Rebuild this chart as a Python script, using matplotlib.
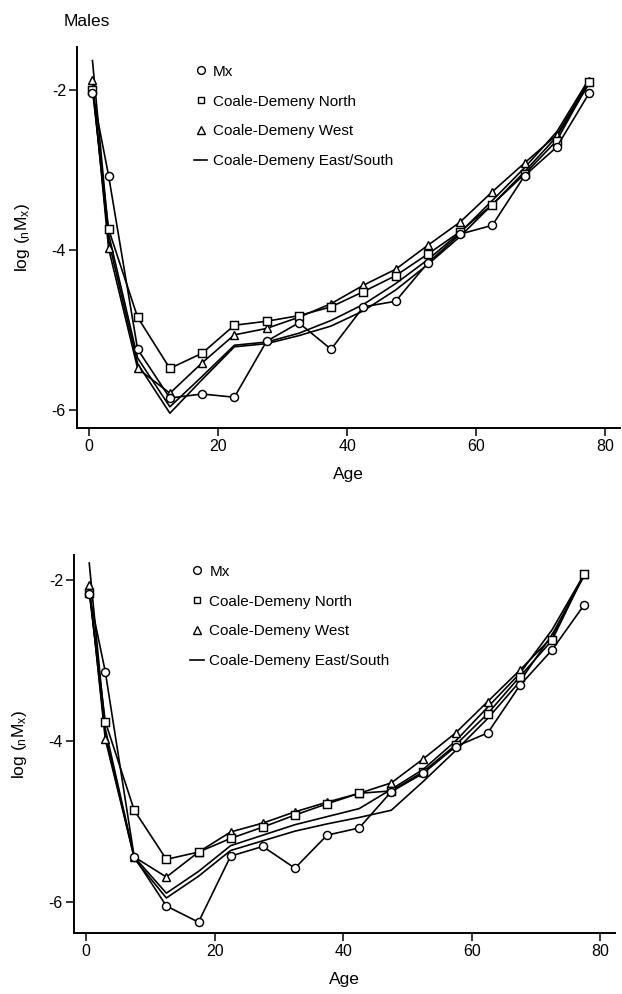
import matplotlib
matplotlib.use("Agg")
import matplotlib.pyplot as plt
from matplotlib.lines import Line2D

plt.rcParams["font.family"] = ["Liberation Sans", "DejaVu Sans"]
plt.rcParams["mathtext.fontset"] = "custom"
plt.rcParams["mathtext.rm"] = "Liberation Sans"
plt.rcParams["mathtext.it"] = "Liberation Sans:italic"
plt.rcParams["mathtext.default"] = "regular"
plt.rcParams["axes.unicode_minus"] = False

# Age-group midpoints
ages = [0.5, 3, 7.5, 12.5, 17.5, 22.5, 27.5, 32.5, 37.5, 42.5, 47.5, 52.5,
        57.5, 62.5, 67.5, 72.5, 77.5]

# Males: log(nMx) observed and model life tables
mx_m = [-2.03, -3.07, -5.24, -5.85, -5.80, -5.84, -5.14, -4.91, -5.24, -4.71,
        -4.64, -4.16, -3.80, -3.69, -3.07, -2.71, -2.04]
north_m = [-2.00, -3.74, -4.84, -5.48, -5.29, -4.94, -4.89, -4.82, -4.71, -4.52,
           -4.32, -4.05, -3.77, -3.43, -3.05, -2.63, -1.90]
west_m = [-1.87, -3.98, -5.48, -5.79, -5.41, -5.06, -4.98, -4.84, -4.67, -4.44,
          -4.24, -3.94, -3.65, -3.27, -2.91, -2.56, -1.88]
east_m = [-1.63, -3.80, -5.35, -5.96, -5.58, -5.19, -5.15, -5.04, -4.88, -4.68,
          -4.42, -4.12, -3.78, -3.38, -2.97, -2.52, -1.86]
south_m = [-1.95, -3.88, -5.42, -6.04, -5.62, -5.21, -5.17, -5.07, -4.95, -4.76,
           -4.50, -4.18, -3.83, -3.43, -3.02, -2.58, -1.92]

# Females: log(nMx) observed and model life tables
mx_f = [-2.18, -3.14, -5.44, -6.05, -6.25, -5.43, -5.31, -5.58, -5.17, -5.08,
        -4.63, -4.40, -4.07, -3.90, -3.31, -2.87, -2.31]
north_f = [-2.16, -3.76, -4.86, -5.47, -5.38, -5.21, -5.07, -4.92, -4.78, -4.65,
           -4.62, -4.38, -4.05, -3.66, -3.20, -2.75, -1.93]
west_f = [-2.06, -3.98, -5.44, -5.69, -5.38, -5.13, -5.02, -4.88, -4.76, -4.65,
          -4.52, -4.22, -3.90, -3.51, -3.12, -2.71, -1.92]
east_f = [-1.79, -3.85, -5.44, -5.89, -5.62, -5.30, -5.17, -5.04, -4.94, -4.84,
          -4.60, -4.35, -4.00, -3.58, -3.16, -2.62, -1.93]
south_f = [-2.10, -3.92, -5.46, -5.95, -5.68, -5.36, -5.24, -5.12, -5.03, -4.95,
           -4.86, -4.50, -4.12, -3.72, -3.26, -2.68, -1.95]

legend_labels = ["Mx", "Coale-Demeny North", "Coale-Demeny West",
                 "Coale-Demeny East/South"]
x_ticks = [0, 20, 40, 60, 80]
y_ticks = [-2, -4, -6]

W, H = 622, 994
fig = plt.figure(figsize=(W / 100, H / 100), dpi=100)


def px_axes(left, top, right, bottom):
    return fig.add_axes([left / W, 1 - bottom / H, (right - left) / W,
                         (bottom - top) / H])


LW = 1.2
mk = dict(markersize=5.8, markerfacecolor="white", markeredgecolor="black",
          markeredgewidth=1.05, color="black", linewidth=LW)


def panel(ax, mx, north, west, east, south, xlim, ylim, legend_xy):
    ax.plot(ages, east, color="black", linewidth=LW, zorder=2)
    ax.plot(ages, south, color="black", linewidth=LW, zorder=2)
    ax.plot(ages, west, marker="^", zorder=3, **mk)
    ax.plot(ages, north, marker="s", zorder=3, **{**mk, "markersize": 5.2})
    ax.plot(ages, mx, marker="o", zorder=4, **mk)
    ax.set_xlim(*xlim)
    ax.set_ylim(*ylim)
    ax.set_xticks(x_ticks)
    ax.set_yticks(y_ticks)
    ax.set_xticklabels([str(t) for t in x_ticks])
    ax.set_yticklabels([str(t) for t in y_ticks])
    for s in ("top", "right"):
        ax.spines[s].set_visible(False)
    for s in ("left", "bottom"):
        ax.spines[s].set_linewidth(1.4)
    ax.tick_params(direction="out", length=5.5, width=1.1, labelsize=11.5,
                   pad=2.5)
    ax.set_xlabel("Age", fontsize=12.5, labelpad=9)
    ax.set_ylabel(r"log ($_n$M$_x$)", fontsize=12.5, labelpad=14)

    handles = [
        Line2D([], [], marker="o", linestyle="none", markersize=5.6,
               markerfacecolor="white", markeredgecolor="black"),
        Line2D([], [], marker="s", linestyle="none", markersize=5.0,
               markerfacecolor="white", markeredgecolor="black"),
        Line2D([], [], marker="^", linestyle="none", markersize=6.0,
               markerfacecolor="white", markeredgecolor="black"),
        Line2D([], [], color="black", linewidth=1.2),
    ]
    ax.legend(handles, legend_labels, loc="upper left",
              bbox_to_anchor=(legend_xy[0] / W, 1 - legend_xy[1] / H),
              bbox_transform=fig.transFigure, frameon=False, fontsize=11,
              handlelength=0.9, handletextpad=0.35, labelspacing=1.04,
              borderaxespad=0.3)


ax1 = px_axes(77, 47, 620, 428)
panel(ax1, mx_m, north_m, west_m, east_m, south_m, (-1.9, 82.3),
      (-6.225, -1.46), (183, 54))
fig.text(87 / W, 1 - 22 / H, "Males", fontsize=12.5, ha="center", va="center")

ax2 = px_axes(74, 555, 615, 933)
panel(ax2, mx_f, north_f, west_f, east_f, south_f, (-1.87, 82.3),
      (-6.385, -1.69), (179.5, 554))

fig.savefig("out.png", dpi=100)
